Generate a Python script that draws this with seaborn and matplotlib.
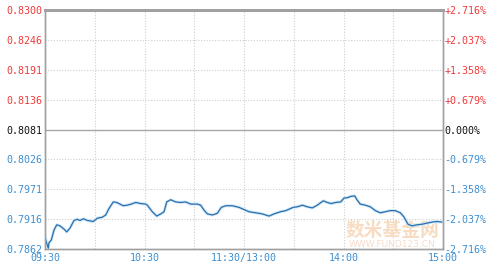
import matplotlib
matplotlib.use("Agg")
import matplotlib.pyplot as plt
import seaborn as sns
import pandas as pd
import numpy as np

# ---- data ----
minutes = [0, 1, 2, 2.4, 3.8, 5.4, 7.1, 9.0, 11.5, 13.1, 15.1, 17.5, 19.5, 21.1, 23.1, 25.5,
           29.1, 31.5, 34.6, 36.6, 38.6, 41.2, 43.2, 45.2, 47.2, 49.6, 52.0, 54.7, 57.7, 60.7,
           61.7, 64.7, 67.4, 69.8, 71.8, 73.4, 75.8, 78.8, 81.8, 84.8, 87.9, 91.8, 93.9, 95.9,
           97.9, 100.9, 103.9, 106.3, 109.0, 112.9, 117.0, 120.0, 123.0, 127.1, 131.0, 135.1,
           138.1, 142.1, 145.2, 149.7, 152.1, 155.2, 158.2, 161.2, 164.2, 167.8, 170.2, 172.6,
           175.3, 178.3, 180.3, 182.7, 184.1, 186.8, 188.1, 190.1, 193.2, 196.2, 199.2, 202.2,
           205.2, 208.2, 211.2, 214.3, 216.3, 218.9, 221.3, 224.3, 227.3, 230.4, 233.4, 236.4,
           239.4]
prices = [0.7884, 0.7872, 0.7863, 0.7873, 0.7878, 0.7896, 0.7906, 0.7904, 0.7898, 0.7893,
          0.7900, 0.7914, 0.7916, 0.7914, 0.7917, 0.7914, 0.7912, 0.7918, 0.7920, 0.7924,
          0.7936, 0.7948, 0.7947, 0.7944, 0.7941, 0.7942, 0.7944, 0.7947, 0.7945, 0.7944,
          0.7942, 0.7930, 0.7922, 0.7926, 0.7930, 0.7948, 0.7952, 0.7948, 0.7947, 0.7948,
          0.7944, 0.7944, 0.7942, 0.7933, 0.7926, 0.7924, 0.7927, 0.7938, 0.7941, 0.7941,
          0.7938, 0.7934, 0.7930, 0.7928, 0.7926, 0.7922, 0.7926, 0.7930, 0.7932, 0.7938,
          0.7939, 0.7942, 0.7939, 0.7937, 0.7942, 0.7950, 0.7947, 0.7945, 0.7947, 0.7948,
          0.7955, 0.7956, 0.7958, 0.7959, 0.7952, 0.7944, 0.7942, 0.7939, 0.7932, 0.7928,
          0.7930, 0.7932, 0.7932, 0.7928, 0.7921, 0.7907, 0.7904, 0.7906, 0.7907, 0.7909,
          0.7911, 0.7912, 0.7911]

base_price = 0.8081
left_ticks = [0.7862, 0.7916, 0.7971, 0.8026, 0.8081, 0.8136, 0.8191, 0.8246, 0.8300]
right_ticks = [-2.716, -2.037, -1.358, -0.679, 0.000, 0.679, 1.358, 2.037, 2.716]
right_labels = ["-2.716%", "-2.037%", "-1.358%", "-0.679%", "0.000%",
                "+0.679%", "+1.358%", "+2.037%", "+2.716%"]
x_ticks = [0, 60, 120, 180, 240]
x_labels = ["09:30", "10:30", "11:30/13:00", "14:00", "15:00"]
x_minor = [30, 90, 150, 210]

RED = "#f03a3a"
BLUE = "#3d8fd1"
BLACK = "#111111"
LINE = "#2a6fad"

sns.set_style("white")
plt.rcParams['font.family'] = ['DejaVu Sans Mono', 'Noto Sans CJK SC', 'DejaVu Sans']

fig = plt.figure(figsize=(4.87, 2.66), dpi=100)
ax = fig.add_axes([45 / 487, 17 / 266, 398 / 487, 239 / 266])

df = pd.DataFrame({"minute": minutes, "price": prices})

ymin = base_price * (1 - 0.02716)
ymax = base_price * (1 + 0.02716)

# grid
for t in left_ticks[1:-1]:
    if abs(t - base_price) < 1e-6:
        ax.axhline(t, color="#a8a8a8", lw=1.0, zorder=1)
    else:
        ax.axhline(t, color="#cfcfcf", lw=0.8, ls=(0, (1, 1.5)), zorder=1)
for t in x_ticks[1:-1] + x_minor:
    ax.axvline(t, color="#cfcfcf", lw=0.8, ls=(0, (1, 1.5)), zorder=1)

# watermark
ax.text(0.873, 0.077, "数米基金网", transform=ax.transAxes, ha="center", va="center",
        fontsize=13.5, fontweight="bold", color="#f8dcc2", family=["Noto Sans CJK SC"], zorder=2)
ax.text(0.873, 0.017, "WWW.FUND123.CN", transform=ax.transAxes, ha="center", va="center",
        fontsize=6.5, color="#f5dccd", family=["DejaVu Sans"], zorder=2)

sns.lineplot(data=df, x="minute", y="price", ax=ax, color="#cfe7f6", lw=2.2, zorder=3)
sns.lineplot(data=df, x="minute", y="price", ax=ax, color=LINE, lw=0.9, zorder=4)

ax.set_xlim(0, 240)
ax.set_ylim(ymin, ymax)
ax.set_xlabel("")
ax.set_ylabel("")
ax.set_xticks(x_ticks)
ax.set_xticklabels(x_labels)
ax.set_yticks(left_ticks)
ax.set_yticklabels([f"{t:.4f}" for t in left_ticks])
ax.tick_params(axis="both", length=0, labelsize=7.2)
ax.tick_params(axis="y", pad=2)
ax.tick_params(axis="x", pad=3, colors=BLUE)
for lbl, t in zip(ax.get_yticklabels(), left_ticks):
    if abs(t - base_price) < 1e-6:
        lbl.set_color(BLACK)
    elif t > base_price:
        lbl.set_color(RED)
    else:
        lbl.set_color(BLUE)

ax2 = ax.twinx()
ax2.set_ylim(-2.716, 2.716)
ax2.set_yticks(right_ticks)
ax2.set_yticklabels(right_labels)
ax2.tick_params(axis="y", length=0, labelsize=7.2, pad=1)
for lbl, t in zip(ax2.get_yticklabels(), right_ticks):
    if t == 0:
        lbl.set_color(BLACK)
    elif t > 0:
        lbl.set_color(RED)
    else:
        lbl.set_color(BLUE)

for a in (ax, ax2):
    for s in a.spines.values():
        s.set_color("#a0a0a0")
        s.set_linewidth(1.0)
    a.spines["top"].set_linewidth(2.0)

fig.savefig("out.png", dpi=100, facecolor="white")
